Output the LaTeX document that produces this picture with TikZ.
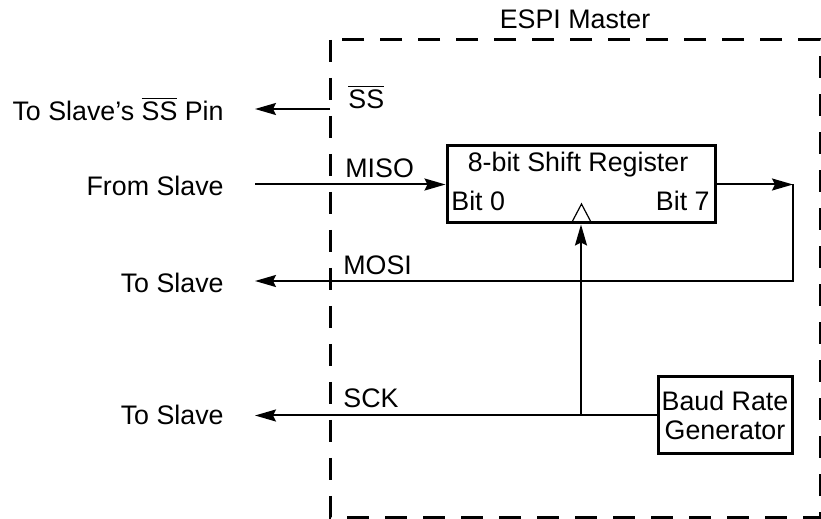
\documentclass[tikz,border=0pt]{standalone}
\usepackage{fontspec}
\setmainfont{Liberation Sans}
\usetikzlibrary{arrows.meta}

\begin{document}
\begin{tikzpicture}[x=0.5pt, y=-0.5pt, font=\fontsize{13.4}{14.5}\selectfont,
    sig/.style={line width=1pt, -{Stealth[length=10.5pt, width=6pt, inset=1.5pt]}},
    blk/.style={draw, line width=1.5pt, inner sep=0pt, minimum height=38.5pt},
    txt/.style={inner sep=0pt}]
    \useasboundingbox (0,0) rectangle (821,519);
    \draw[line width=1.5pt, dash pattern=on 11pt off 8pt] (330,40) rectangle (820,517);
    \node[txt] (master) at (575,19) {ESPI Master};
    \node[blk, minimum width=134pt] (sr) at (581,184.5) {};
    \node[txt] (srname) at (578,165) {8-bit Shift Register};
    \node[txt, anchor=west] (bit0) at (451,201) {Bit 0};
    \node[txt, anchor=east] (bit7) at (710,201) {Bit 7};
    \draw[line width=0.6pt] (571.5,223) -- (581.5,204) -- (591.5,223);
    \node[blk, minimum width=67pt, align=center] (baud) at (725,415.5) {Baud Rate\\Generator};
    \coordinate (ssin) at (330,109);
    \coordinate (ssout) at (255,109);
    \coordinate (misoin) at (255,184.5);
    \coordinate (turn) at (793,184.5);
    \coordinate (mosiout) at (255,281);
    \coordinate (sckout) at (255,415.5);
    \coordinate (tap) at (581,415.5);
    \draw[sig] (ssin) -- (ssout);
    \draw[sig] (misoin) -- (sr.west);
    \draw[sig] (sr.east) -- (turn);
    \draw[sig] (turn) |- (mosiout);
    \draw[sig] (baud.west) -- (sckout);
    \draw[sig] (tap) -- (sr.south);
    \node[txt, anchor=east] (toss) at (224,109) {To Slave’s \(\overline{\mbox{SS}}\) Pin};
    \node[txt, anchor=east] (frommiso) at (224,186) {From Slave};
    \node[txt, anchor=east] (tomosi) at (224,283) {To Slave};
    \node[txt, anchor=east] (tosck) at (224,415) {To Slave};
    \node[txt, anchor=west] (ss) at (348,97) {\(\overline{\mbox{SS}}\)};
    \node[txt, anchor=west] (miso) at (345,168) {MISO};
    \node[txt, anchor=west] (mosi) at (343,265) {MOSI};
    \node[txt, anchor=west] (sck) at (343,398) {SCK};
\end{tikzpicture}
\end{document}
